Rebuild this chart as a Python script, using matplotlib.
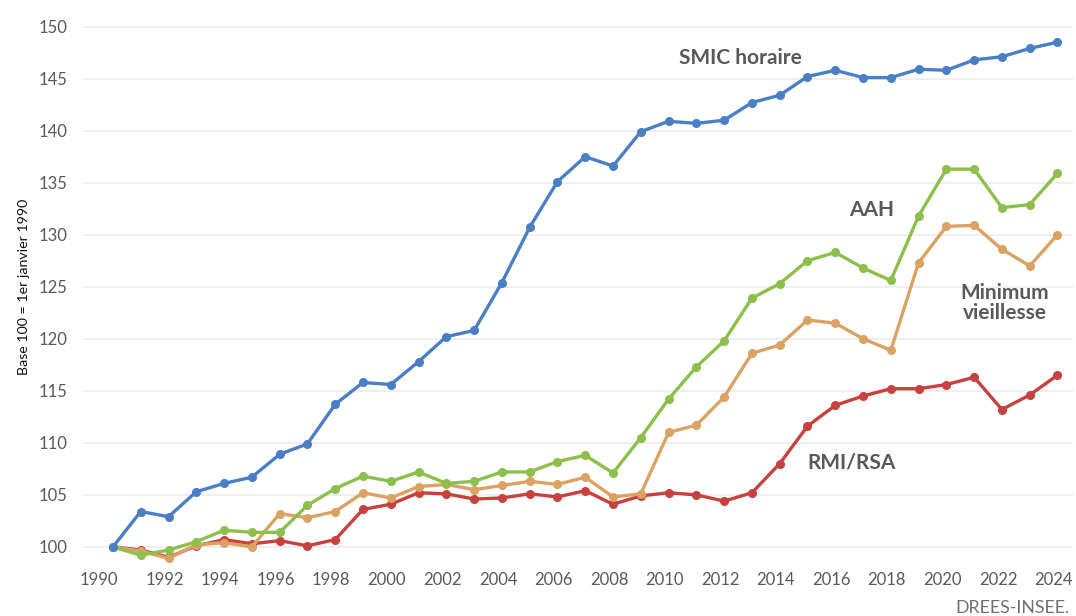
import matplotlib
matplotlib.use("Agg")
import matplotlib.pyplot as plt
import matplotlib.transforms as mtransforms

years = list(range(1990, 2025))

smic = [100.0, 103.4, 102.9, 105.3, 106.1, 106.7, 108.9, 109.9, 113.7, 115.8,
        115.6, 117.8, 120.2, 120.8, 125.4, 130.7, 135.1, 137.5, 136.6, 139.9,
        140.9, 140.7, 141.0, 142.7, 143.4, 145.2, 145.8, 145.1, 145.1, 145.9,
        145.8, 146.8, 147.1, 147.9, 148.5]
aah = [100.0, 99.2, 99.7, 100.5, 101.6, 101.4, 101.4, 104.0, 105.6, 106.8,
       106.3, 107.2, 106.1, 106.3, 107.2, 107.2, 108.2, 108.8, 107.1, 110.5,
       114.2, 117.3, 119.8, 123.9, 125.3, 127.5, 128.3, 126.8, 125.6, 131.8,
       136.3, 136.3, 132.6, 132.9, 135.9]
min_vieillesse = [100.0, 99.6, 98.9, 100.2, 100.4, 100.0, 103.2, 102.8, 103.4, 105.2,
                  104.7, 105.8, 106.0, 105.5, 105.9, 106.3, 106.0, 106.7, 104.8, 105.1,
                  111.0, 111.7, 114.4, 118.6, 119.4, 121.8, 121.5, 120.0, 118.9, 127.3,
                  130.8, 130.9, 128.6, 127.0, 130.0]
rmi_rsa = [100.0, 99.7, 99.0, 100.1, 100.7, 100.3, 100.6, 100.1, 100.7, 103.6,
           104.1, 105.2, 105.1, 104.6, 104.7, 105.1, 104.8, 105.4, 104.1, 104.9,
           105.2, 105.0, 104.4, 105.2, 108.0, 111.6, 113.6, 114.5, 115.2, 115.2,
           115.6, 116.3, 113.2, 114.6, 116.5]

series = [
    ("SMIC horaire", smic, "#4a7fc6"),
    ("AAH", aah, "#8dc04a"),
    ("Minimum\nvieillesse", min_vieillesse, "#dca264"),
    ("RMI/RSA", rmi_rsa, "#c8413f"),
]
# (x year, y value) where each label sits
label_pos = {
    "SMIC horaire": (2013.1, 147.0),
    "AAH": (2017.8, 132.4),
    "Minimum\nvieillesse": (2022.6, 123.4),
    "RMI/RSA": (2017.1, 108.1),
}

plt.rcParams['font.family'] = ['Lato', 'DejaVu Sans']

fig = plt.figure(figsize=(10.76, 6.16), dpi=100)
ax = fig.add_axes([0.0771, 0.0877, 0.9199, 0.8928])

# values are mid-year points
xs = [y + 0.5 for y in years]
for name, vals, col in series[::-1]:
    ax.plot(xs, vals, color=col, lw=2.4, marker='o', markersize=5.5,
            solid_joinstyle='round')

for name, vals, col in series:
    lx, ly = label_pos[name]
    ax.text(lx, ly, name, ha='center', va='center', fontsize=15,
            fontweight='bold', color='#595959', linespacing=1.0)

ax.set_xlim(1989.42, 2025.05)
ax.set_ylim(98.55, 151.4)
ax.set_yticks(range(100, 151, 5))
ax.set_xticks(range(1990, 2025, 2))
ax.set_xticks([1990, 2000, 2010, 2020], minor=True)

ax.grid(axis='y', which='major', color='#ececec', lw=1.2)
ax.grid(axis='x', which='minor', color='#e4e4e4', lw=1.0)
ax.grid(axis='x', which='major', visible=False)
ax.set_axisbelow(True)
for s in ax.spines.values():
    s.set_visible(False)
ax.tick_params(which='both', length=0, labelsize=12, labelcolor='#595959')
ax.tick_params(axis='y', pad=11)
ax.tick_params(axis='x', pad=7)

# excel puts year labels a bit right of the year line
shift = mtransforms.ScaledTranslation(10 / 100, 0, fig.dpi_scale_trans)
for lab in ax.get_xticklabels()[1:]:
    lab.set_transform(lab.get_transform() + shift)

ax.set_ylabel("Base 100 = 1er janvier 1990", fontsize=10.2, color='#111111', labelpad=6)

fig.text(0.9945, 0.0, "DREES-INSEE.", ha='right', va='bottom', fontsize=12.8,
         color='#707070')

fig.savefig("out.png", dpi=100)
